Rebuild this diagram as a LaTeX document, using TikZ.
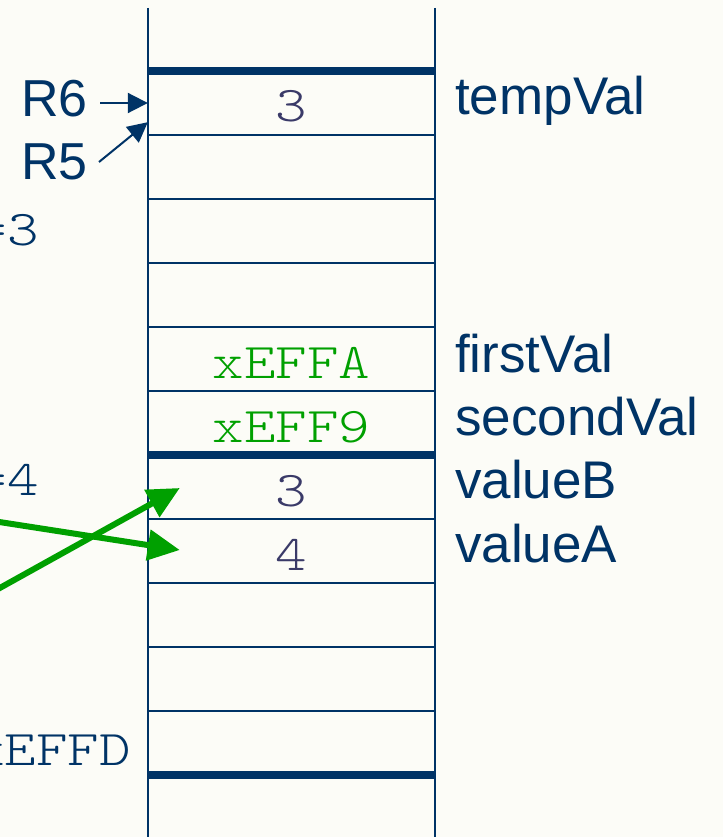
\documentclass[tikz,border=0pt]{standalone}
\usepackage{fontspec}
\setmainfont{Liberation Sans}
% widened light typewriter face for the code values
\newfontfamily\codefam{lmmonolt10-regular}[Extension=.otf, FakeStretch=1.2]
\usetikzlibrary{arrows.meta,positioning,calc}
\definecolor{navy}{HTML}{003366}
\definecolor{slate}{HTML}{3A3A68}
\definecolor{pgreen}{HTML}{00A000}
\definecolor{paper}{HTML}{FCFCF7}
\newcommand{\codefont}{\codefam\fontsize{50}{56}\selectfont}
\tikzset{
  cell/.style    = {rectangle, minimum width=287pt, minimum height=64pt, inner sep=0pt},
  val/.style     = {font=\codefont, text=slate, anchor=base, inner sep=0pt},
  addr/.style    = {font=\codefont, text=pgreen, anchor=base, inner sep=0pt},
  side/.style    = {font=\codefont, text=navy, anchor=base east, inner sep=0pt},
  field/.style   = {font=\fontsize{53}{60}\selectfont, text=navy, anchor=base west, inner sep=0pt},
  reg/.style     = {font=\fontsize{52}{58}\selectfont, text=navy, anchor=base east, inner sep=0pt},
  ptr/.style     = {-{Triangle[length=20pt,width=20pt]}, line width=2pt, navy},
  move/.style    = {-{Triangle[length=32pt,width=30pt]}, line width=6pt, pgreen},
  rule/.style    = {navy, line width=1.5pt},
  frame/.style   = {navy, line width=8pt},
}

\begin{document}
\begin{tikzpicture}[x=1pt,y=-1pt]
\useasboundingbox (0,0) rectangle (723,837);
\clip (0,0) rectangle (723,837);
\fill[paper] (0,0) rectangle (723,837);

% stack cells, 64pt each
\foreach \i in {0,...,10} {
  \node[cell] (c\i) at (291.5,{103+64*\i}) {};
}
\foreach \i in {1,...,10} {\draw[rule] (c\i.north west) -- (c\i.north east);}
\draw[rule] (148,8) -- (148,837);
\draw[rule] (435,8) -- (435,837);
\draw[frame] (c0.north west) -- (c0.north east);
\draw[frame] (c6.north west) -- (c6.north east);
\draw[frame] (c10.south west) -- (c10.south east);

% contents
\node[val]  (v0) at ($(c0)+(0,19)$) {3};
\node[addr] (v4) at ($(c4)+(0,19)$) {xEFFA};
\node[addr] (v5) at ($(c5)+(0,19)$) {xEFF9};
\node[val]  (v6) at ($(c6)+(0,19)$) {3};
\node[val]  (v7) at ($(c7)+(0,19)$) {4};

% names on the right
\node[field] (n0) at (455,115) {tempVal};
\node[field] (n4) at (455,372) {firstVal};
\node[field] (n5) at (455,435) {secondVal};
\node[field] (n6) at (455,498) {valueB};
\node[field] (n7) at (455,562) {valueA};

% frame pointers
\node[reg] (r6) at (88,117) {R6};
\node[reg] (r5) at (88,179) {R5};
\coordinate (r6from) at (100,103);
\coordinate (r5from) at (99,162);
\coordinate (r5to) at ($(c0.south west)+(0,-13)$);
\draw[ptr] (r6from) -- (c0.west);
\draw[ptr] (r5from) -- (r5to);

% code fragments on the left
\node[side] (s1) at (39,245) {=3};
\node[side] (s2) at (39,495) {=4};
\node[side] (s3) at (131,765) {xEFFD};

% swap
\coordinate (fromA) at (-20,519);
\coordinate (fromB) at (-20,599);
\draw[move] (fromA) -- ($(c7.west)+(32,-1)$);
\draw[move] (fromB) -- ($(c6.west)+(32,1)$);
\end{tikzpicture}
\end{document}
